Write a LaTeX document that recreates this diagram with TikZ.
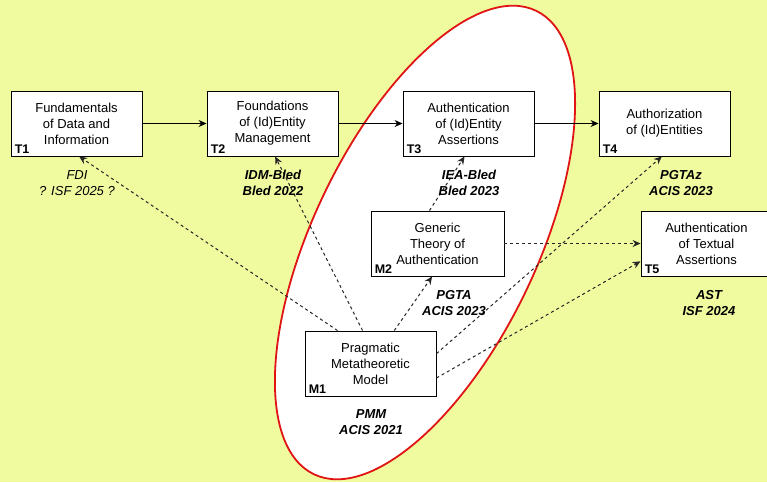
\documentclass[tikz,border=0pt]{standalone}
\usepackage{fontspec}
\setmainfont{Liberation Sans}
\usetikzlibrary{arrows.meta,calc}
\definecolor{bgyellow}{RGB}{240,251,160}
\definecolor{ovalred}{RGB}{225,20,20}

\begin{document}
\begin{tikzpicture}[x=1pt,y=-1pt,
  box/.style={draw,fill=white,line width=0.9pt,minimum width=131pt,minimum height=65pt,
    inner sep=0pt,align=center,font=\fontsize{13}{16}\selectfont},
  tag/.style={anchor=base west,inner sep=0pt,font=\fontsize{12.5}{14}\selectfont\bfseries},
  paper/.style={align=center,font=\fontsize{13}{16}\selectfont\bfseries\itshape},
  link/.style={line width=1pt,-{Stealth[length=8pt,width=7pt]}},
  cite/.style={link,dash pattern=on 3pt off 3pt,black!85}]
\useasboundingbox (0,0) rectangle (767,482);
\clip (0,0) rectangle (767,482);
\fill[bgyellow] (0,0) rectangle (767,482);
% the models
\draw[ovalred,fill=white,line width=1.8pt,rotate around={64.4:(425,242.5)}]
  (425,242.5) ellipse [x radius=257pt,y radius=112pt];
% theories
\node[box] (t1) at (76.5,123.5) {Fundamentals\\of Data and\\Information};
\node[box] (t2) at (272.5,123.5) {Foundations\\of (Id)Entity\\Management};
\node[box] (t3) at (468.5,123.5) {Authentication\\of (Id)Entity\\Assertions};
\node[box] (t4) at (664.5,123.5) {Authorization\\of (Id)Entities};
\node[box] (t5) at (706.5,243.5) {Authentication\\of Textual\\Assertions};
\node[box,minimum width=133pt] (m2) at (437.5,243.5) {Generic\\Theory of\\Authentication};
\node[box] (m1) at (370.5,363.5) {Pragmatic\\Metatheoretic\\Model};
\node[tag] (t1tag) at ([xshift=4pt,yshift=3pt]t1.south west) {T1};
\node[tag] (t2tag) at ([xshift=4pt,yshift=3pt]t2.south west) {T2};
\node[tag] (t3tag) at ([xshift=4pt,yshift=3pt]t3.south west) {T3};
\node[tag] (t4tag) at ([xshift=4pt,yshift=3pt]t4.south west) {T4};
\node[tag] (t5tag) at ([xshift=4pt,yshift=3pt]t5.south west) {T5};
\node[tag] (m2tag) at ([xshift=4pt,yshift=3pt]m2.south west) {M2};
\node[tag] (m1tag) at ([xshift=4pt,yshift=3pt]m1.south west) {M1};
% solid chain
\draw[link] (t1) -- (t2);
\draw[link] (t2) -- (t3);
\draw[link] (t3) -- (t4);
% dashed, from the models
\draw[cite] ($(m1.north west)!0.25!(m1.north east)$) -- ($(t1.south west)!0.52!(t1.south east)$);
\draw[cite] ($(m1.north west)!0.44!(m1.north east)$) -- ($(t2.south west)!0.52!(t2.south east)$);
\draw[cite] ($(m1.north west)!0.68!(m1.north east)$) -- ($(m2.south west)!0.46!(m2.south east)$);
\draw[cite] ($(m2.north west)!0.44!(m2.north east)$) -- ($(t3.south west)!0.47!(t3.south east)$);
\draw[cite] ($(m1.north east)!0.35!(m1.south east)$) -- ($(t4.south west)!0.48!(t4.south east)$);
\draw[cite] (m2.east) -- (t5.west);
\draw[cite] ($(m1.north east)!0.72!(m1.south east)$) -- ($(t5.north west)!0.77!(t5.south west)$);
% papers
\node[paper,font=\fontsize{13}{16}\selectfont\itshape] (fdi) at (77,183) {FDI\\? ISF 2025 ?};
\node[paper] (idm) at (273,183) {IDM-Bled\\Bled 2022};
\node[paper] (iea) at (469,183) {IEA-Bled\\Bled 2023};
\node[paper] (pgtaz) at (681,183) {PGTAz\\ACIS 2023};
\node[paper] (pgta) at (454,303) {PGTA\\ACIS 2023};
\node[paper] (ast) at (709,303) {AST\\ISF 2024};
\node[paper] (pmm) at (371,422) {PMM\\ACIS 2021};
\end{tikzpicture}
\end{document}
